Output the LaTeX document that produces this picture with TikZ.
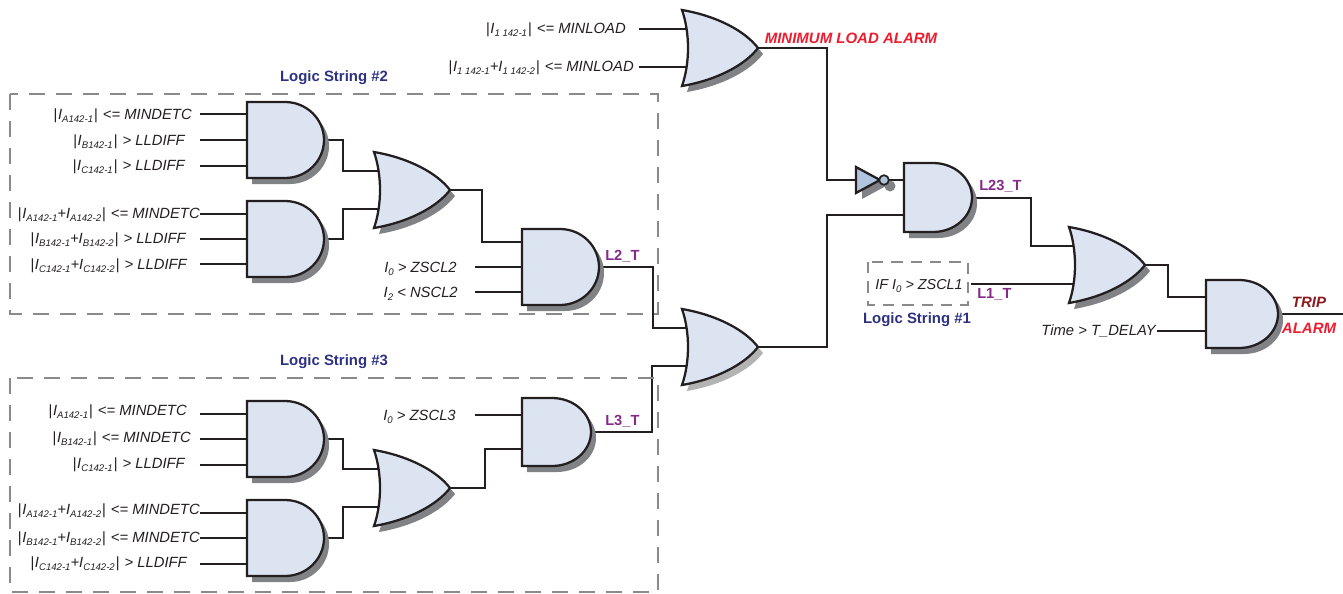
\documentclass[tikz,border=0pt]{standalone}
\usepackage{fontspec}
\setmainfont{Liberation Sans}
\definecolor{gatefill}{HTML}{DCE3F1}
\definecolor{invfill}{HTML}{B0C4DE}
\definecolor{inkblack}{HTML}{231F20}
\definecolor{shadowgray}{HTML}{808285}
\definecolor{paleshadow}{HTML}{B3B3B3}
\definecolor{boxgray}{HTML}{8A8A8A}
\definecolor{stringblue}{HTML}{2E3180}
\definecolor{signalpurple}{HTML}{862A8A}
\definecolor{alarmred}{HTML}{ED1C2E}
\definecolor{tripred}{HTML}{8B1A1F}
\newcommand{\lsub}[1]{\raisebox{-0.22em}{\fontsize{7.2}{8}\selectfont #1}}
\newcommand{\absval}[1]{|\kern0.6pt\relax#1\kern0.6pt\relax|\kern0.8pt\relax}
\pgfdeclarelayer{wires}
\pgfsetlayers{wires,main}
\tikzset{every picture/.style={line width=0.75pt},
  wire/.style={draw=inkblack,line width=1.5pt},
  gatebox/.style={anchor=north west,inner sep=0pt,outer sep=0pt},
  gatebody/.style={draw=inkblack,fill=gatefill,line width=1.7pt,line join=miter},
  stringbox/.style={draw=boxgray,line width=1.5pt,dash pattern=on 12pt off 8.25pt},
  smallbox/.style={draw=boxgray,line width=1.5pt,dash pattern=on 8.5pt off 6pt},
  condtext/.style={anchor=base east,inner sep=0pt,text=inkblack,font=\fontsize{11.1}{13}\selectfont\itshape},
  stringtext/.style={inner sep=0pt,text=stringblue,font=\fontsize{11.2}{12}\selectfont\bfseries},
  signaltext/.style={anchor=west,inner sep=0pt,text=signalpurple,font=\fontsize{11}{12}\selectfont\bfseries},
  alarmtext/.style={inner sep=0pt,font=\fontsize{11.25}{12}\selectfont\bfseries\itshape},
  andshape/.style n args={3}{insert path={(0,0) -- ({#1-#3},0) arc[start angle=-90,end angle=90,x radius=#3,y radius={#2/2}] -- (0,#2) -- cycle}},
  orshape/.style={insert path={(0,0) .. controls (35,6) and (63,21) .. (76,38) .. controls (63,55) and (35,70) .. (0,76) .. controls (8,53) and (8,23) .. cycle}},
  notshape/.style={insert path={(0,0) -- (24,13) -- (0,26) -- cycle}}
}
% name, left, top, width, height
\newcommand{\andgate}[5]{%
  \node[gatebox,minimum width=#4*0.75pt,minimum height=#5*0.75pt] (#1) at (#2,#3) {};
  \fill[shadowgray,shift={(#2+5,#3+6)},andshape={#4}{#5}{39}];
  \path[gatebody,shift={(#2,#3)},andshape={#4}{#5}{39}];
}
% shadow colour (optional), name, left, top
\newcommand{\orgate}[4][shadowgray]{%
  \node[gatebox,minimum width=57pt,minimum height=57pt] (#2) at (#3,#4) {};
  \coordinate (#2-a) at (#3+5,#4+19);
  \coordinate (#2-b) at (#3+5,#4+57);
  \fill[#1,shift={(#3+5,#4+6)},orshape];
  \path[gatebody,shift={(#3,#4)},orshape];
}

\begin{document}
\begin{tikzpicture}[x=0.75pt,y=0.75pt,yscale=-1,xscale=1]
\useasboundingbox (0,0) rectangle (1343,593);

% Logic String Boxes
\draw[stringbox] (10,94) rectangle (658,314);
\draw[stringbox] (10,378) rectangle (658,592);
\draw[smallbox] (868,262) rectangle (968,305);

% And Gates
\andgate{a1}{247}{102}{77}{76}
\andgate{a2}{247}{201}{77}{76}
\andgate{a3}{522}{229}{77}{76}
\andgate{a4}{522}{398}{69}{68}
\andgate{a5}{247}{401}{77}{76}
\andgate{a6}{247}{500}{77}{76}
\andgate{a7}{904}{163}{68}{69}
\andgate{a8}{1206}{280}{72}{68}

% Or Gates
\orgate{o1}{374}{152}
\orgate{o2}{374}{450}
\orgate[paleshadow]{o3}{682}{309}
\orgate{o4}{682}{10}
\orgate{o5}{1069}{227}

% Not Gate
\node[gatebox,minimum width=25pt,minimum height=19.5pt] (inv) at (856,167) {};
\fill[shadowgray,shift={(862,173)},notshape];
\fill[shadowgray] (890,186) circle[radius=5.5];
\path[gatebody,fill=invfill,shift={(856,167)},notshape];
\draw[inkblack,fill=invfill,line width=1.3pt] (884,180) circle[radius=4.8];

% Free Wire Ends
\foreach \n/\y in {i1/114,i2/140,i3/166,i4/214,i5/239,i6/264,i7/414,i8/439,i9/465,i10/513,i11/538,i12/564}
  \coordinate (\n) at (200,\y);
\coordinate (i13) at (475,267);
\coordinate (i14) at (475,292);
\coordinate (i15) at (475,415);
\coordinate (i16) at (639,29);
\coordinate (i17) at (639,67);
\coordinate (i18) at (971,284);
\coordinate (i19) at (1157,331);
\coordinate (a3-a) at (522,242);
\coordinate (a4-a) at (522,449);
\coordinate (a7-a) at (904,215);
\coordinate (a8-a) at (1206,297);
\coordinate (tripend) at (1343,314);

% Wires
\begin{pgfonlayer}{wires}
\foreach \n/\g in {i1/a1,i2/a1,i3/a1,i4/a2,i5/a2,i6/a2,i7/a5,i8/a5,i9/a5,i10/a6,i11/a6,i12/a6,i13/a3,i14/a3,i15/a4,i19/a8}
  \draw[wire] (\n) -- (\n -| \g.west);
\draw[wire] (i16) -- (o4-a);
\draw[wire] (i17) -- (o4-b);
\draw[wire] (i18) -- (o5-b);
\draw[wire] (a1.east) -- ++(19,0) |- (o1-a);
\draw[wire] (a2.east) -- ++(19,0) |- (o1-b);
\draw[wire] (a5.east) -- ++(19,0) |- (o2-a);
\draw[wire] (a6.east) -- ++(19,0) |- (o2-b);
\draw[wire] (o1.east) -- ++(32,0) |- (a3-a);
\draw[wire] (o2.east) -- ++(35,0) |- (a4-a);
\draw[wire] (a3.east) -- ++(54,0) |- (o3-a);
\draw[wire] (a4.east) -- ++(61,0) |- (o3-b);
\draw[wire] (o4.east) -- ++(69,0) |- (inv.west);
\draw[wire] (inv.east) -- (inv.east -| a7.west);
\draw[wire] (o3.east) -- ++(69,0) |- (a7-a);
\draw[wire] (a7.east) -- ++(59,0) |- (o5-a);
\draw[wire] (o5.east) -- ++(23,0) |- (a8-a);
\draw[wire] (a8.east) -- (tripend);
\end{pgfonlayer}

% Text Node
\node[condtext] (t1) at (192,119) {\absval{I\lsub{A142-1}} <= MINDETC};
\node[condtext] (t2) at (185,145) {\absval{I\lsub{B142-1}} > LLDIFF};
\node[condtext] (t3) at (185,170) {\absval{I\lsub{C142-1}} > LLDIFF};
\node[condtext] (t4) at (200,218) {\absval{I\lsub{A142-1}+I\lsub{A142-2}} <= MINDETC};
\node[condtext] (t5) at (186,243) {\absval{I\lsub{B142-1}+I\lsub{B142-2}} > LLDIFF};
\node[condtext] (t6) at (187,269) {\absval{I\lsub{C142-1}+I\lsub{C142-2}} > LLDIFF};
\node[condtext] (t7) at (187,415) {\absval{I\lsub{A142-1}} <= MINDETC};
\node[condtext] (t8) at (191,442) {\absval{I\lsub{B142-1}} <= MINDETC};
\node[condtext] (t9) at (185,468) {\absval{I\lsub{C142-1}} > LLDIFF};
\node[condtext] (t10) at (200,514) {\absval{I\lsub{A142-1}+I\lsub{A142-2}} <= MINDETC};
\node[condtext] (t11) at (200,542) {\absval{I\lsub{B142-1}+I\lsub{B142-2}} <= MINDETC};
\node[condtext] (t12) at (187,567) {\absval{I\lsub{C142-1}+I\lsub{C142-2}} > LLDIFF};
\node[condtext] (t13) at (457,272) {I\lsub{0} > ZSCL2};
\node[condtext] (t14) at (458,297) {I\lsub{2} < NSCL2};
\node[condtext] (t15) at (456,420) {I\lsub{0} > ZSCL3};
\node[condtext] (t16) at (626,33) {\absval{I\lsub{1 142-1}} <= MINLOAD};
\node[condtext] (t17) at (634,71) {\absval{I\lsub{1 142-1}+I\lsub{1 142-2}} <= MINLOAD};
\node[condtext,font=\fontsize{10.8}{13}\selectfont\itshape] (t18) at (963,289) {IF I\lsub{0} > ZSCL1};
\node[condtext] (t19) at (1156,335) {Time > T\_DELAY};
% Text Node
\node[stringtext] (s2) at (334,78) {Logic String \#2};
\node[stringtext] (s3) at (334,362) {Logic String \#3};
\node[stringtext] (s1) at (917,320) {Logic String \#1};
% Text Node
\node[signaltext] (l2) at (605,256) {L2\_T};
\node[signaltext] (l3) at (605,421) {L3\_T};
\node[signaltext] (l23) at (979,186) {L23\_T};
\node[signaltext] (l1) at (977,294) {L1\_T};
% Text Node
\node[alarmtext,text=alarmred] (minalarm) at (851,38) {MINIMUM LOAD ALARM};
\node[alarmtext,text=tripred] (trip) at (1309,302) {TRIP};
\node[alarmtext,text=alarmred] (alarm) at (1309,328) {ALARM};

\end{tikzpicture}
\end{document}
